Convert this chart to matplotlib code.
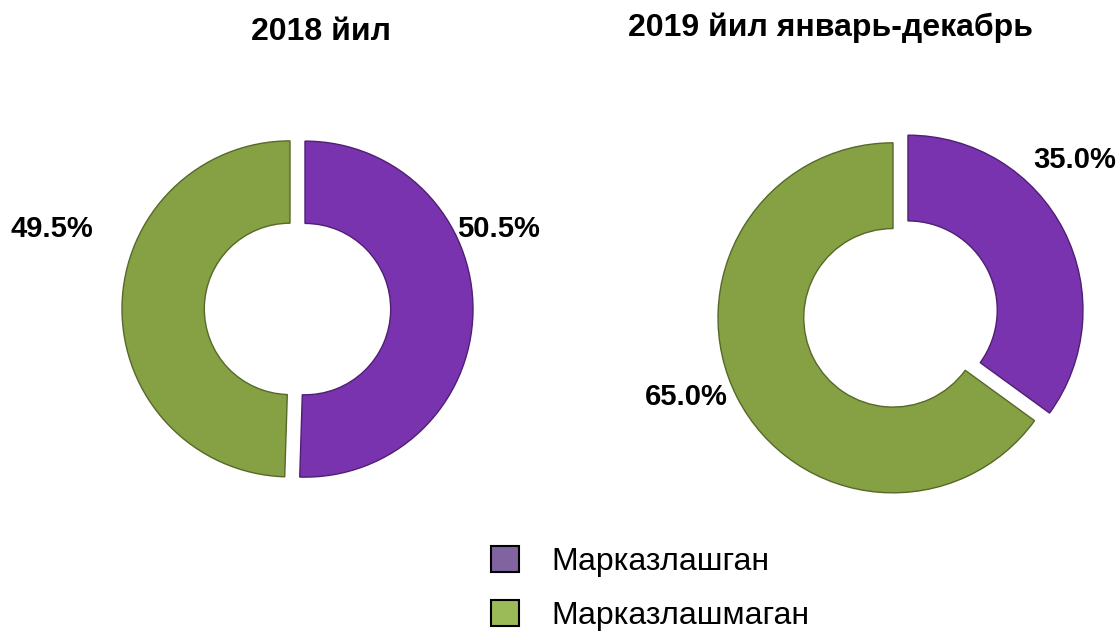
import matplotlib
matplotlib.use("Agg")
import matplotlib.pyplot as plt
from matplotlib.patches import Patch

plt.rcParams['font.family'] = ['Liberation Sans', 'DejaVu Sans']

categories = ["Марказлашган", "Марказлашмаган"]
titles = ["2018 йил", "2019 йил январь-декабрь"]
values_2018 = [50.5, 49.5]
values_2019 = [35.0, 65.0]
label_texts_2018 = ["50.5%", "49.5%"]
label_texts_2019 = ["35.0%", "65.0%"]

pie_colors = ["#7A33AE", "#86A044"]
edge_colors = ["#4E1F73", "#56692A"]
legend_colors = ["#8064A2", "#9BBB59"]

W, H = 1118, 633
fig = plt.figure(figsize=(W / 100, H / 100), dpi=100)
ax = fig.add_axes([0, 0, 1, 1])

def donut(vals, center, radius, explode):
    wedges, _ = ax.pie(vals, radius=radius, center=center, startangle=90,
                       counterclock=False, colors=pie_colors,
                       explode=[explode, explode],
                       wedgeprops=dict(width=radius * 0.49, linewidth=1.0))
    for w, ec in zip(wedges, edge_colors):
        w.set_edgecolor(ec)
    return wedges

donut(values_2018, (297.5, H - 309), 168, 7.5)
donut(values_2019, (900.5, H - 314), 175, 8.4)

ax.set_xlim(0, W)
ax.set_ylim(0, H)
ax.set_aspect('equal')
ax.axis('off')

tkw = dict(fontsize=23, fontweight='bold', ha='center', va='center')
ax.text(321, H - 32, titles[0], **tkw)
ax.text(831, H - 28, titles[1], **tkw)

lkw = dict(fontsize=21, fontweight='bold', ha='center', va='center')
ax.text(498, H - 229, label_texts_2018[0], **lkw)
ax.text(52, H - 229, label_texts_2018[1], **lkw)
ax.text(1075, H - 160, label_texts_2019[0], **lkw)
ax.text(686, H - 397, label_texts_2019[1], **lkw)

handles = [Patch(facecolor=c, edgecolor='black', linewidth=1.5) for c in legend_colors]
fig.legend(handles, categories, loc='upper left', bbox_to_anchor=(475 / W, 1 - 530 / H),
           frameon=False, fontsize=23, handlelength=0.88, handleheight=0.88,
           handletextpad=1.0, labelspacing=0.72, borderpad=0)

fig.savefig("out.png", dpi=100)
